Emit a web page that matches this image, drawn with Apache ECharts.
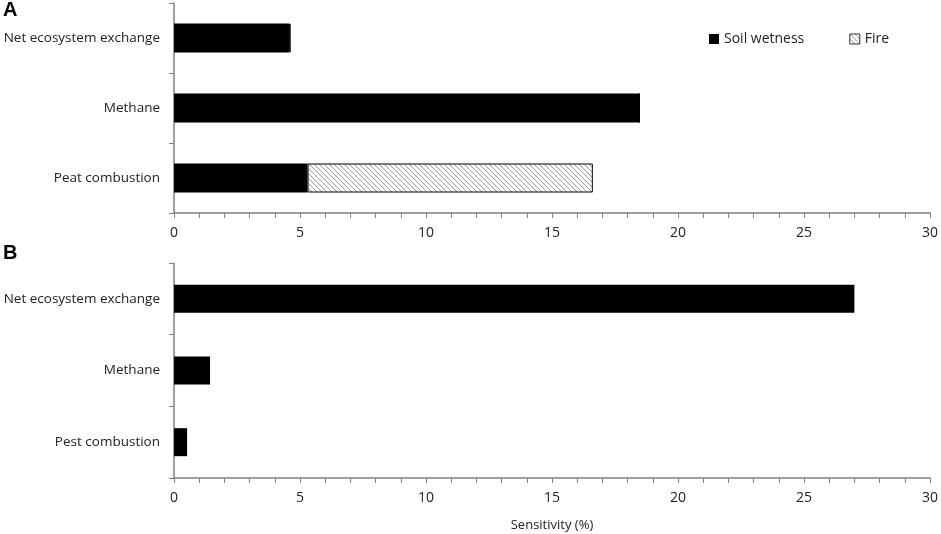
<!DOCTYPE html>
<html>
<head>
<meta charset="utf-8">
<script src="https://cdn.jsdelivr.net/npm/echarts@6/dist/echarts.min.js"></script>
<style>
html, body { margin: 0; padding: 0; background: #fff; }
#chart { width: 941px; height: 534px; }
</style>
</head>
<body>
<div id="chart"></div>
<script>
var categoriesA = ['Net ecosystem exchange', 'Methane', 'Peat combustion'];
var categoriesB = ['Net ecosystem exchange', 'Methane', 'Pest combustion'];
var soilA = [4.57, 18.47, 5.3];
var fireA = [0.06, 0, 11.32];
var soilB = [27.0, 1.43, 0.52];

var axisGray = '#808080';
var textColor = '#222';
var font = 'Open Sans';

// hatch pattern for the fire series
var hatch = document.createElement('canvas');
hatch.width = 5;
hatch.height = 5;
var hc = hatch.getContext('2d');
hc.fillStyle = '#fff';
hc.fillRect(0, 0, 5, 5);
hc.strokeStyle = '#9a9a9a';
hc.lineWidth = 1;
hc.beginPath();
hc.moveTo(0, 0); hc.lineTo(5, 5);
hc.moveTo(-3, 2); hc.lineTo(3, 8);
hc.moveTo(2, -3); hc.lineTo(8, 3);
hc.stroke();
var hatchFill = { image: hatch, repeat: 'repeat' };

function xAxisFor(idx, withName) {
    var ax = {
        gridIndex: idx,
        type: 'value',
        min: 0,
        max: 30,
        interval: 1,
        axisLine: { show: true, lineStyle: { color: axisGray, width: 1.5 } },
        axisTick: { show: true, length: 5, lineStyle: { color: axisGray } },
        splitLine: { show: false },
        axisLabel: {
            margin: 13,
            color: textColor,
            fontFamily: font,
            fontSize: 14,
            formatter: function (v) { return v % 5 === 0 ? String(v) : ''; }
        }
    };
    if (withName) {
        ax.name = 'Sensitivity (%)';
        ax.nameLocation = 'middle';
        ax.nameGap = 41;
        ax.nameTextStyle = { color: textColor, fontFamily: font, fontSize: 13 };
    }
    return ax;
}

function yAxisFor(idx, cats) {
    return {
        gridIndex: idx,
        type: 'category',
        inverse: true,
        data: cats,
        axisLine: { show: true, lineStyle: { color: axisGray, width: 1.5 } },
        axisTick: { show: true, length: 5, lineStyle: { color: axisGray } },
        axisLabel: { margin: 14, color: textColor, fontFamily: font, fontSize: 13.5 }
    };
}

var chart = echarts.init(document.getElementById('chart'), null, { renderer: 'canvas' });
var option = {
    animation: false,
    backgroundColor: '#fff',
    grid: [
        { left: 174, top: 3, width: 757, height: 210 },
        { left: 174, top: 263, width: 757, height: 215 }
    ],
    xAxis: [xAxisFor(0, false), xAxisFor(1, true)],
    yAxis: [yAxisFor(0, categoriesA), yAxisFor(1, categoriesB)],
    legend: {
        data: [
            { name: 'Soil wetness' },
            { name: 'Fire', itemStyle: { color: hatchFill, borderColor: '#333', borderWidth: 1 } }
        ],
        left: 704,
        top: 27,
        itemWidth: 10,
        itemHeight: 10,
        itemGap: 45,
        icon: 'rect',
        textStyle: { color: textColor, fontFamily: font, fontSize: 14 }
    },
    graphic: [
        { type: 'text', left: 3, top: 0, style: { text: 'A', font: 'bold 20px Liberation Sans', fill: '#000' } },
        { type: 'text', left: 3, top: 243, style: { text: 'B', font: 'bold 20px Liberation Sans', fill: '#000' } }
    ],
    series: [
        {
            name: 'Soil wetness',
            type: 'bar',
            xAxisIndex: 0,
            yAxisIndex: 0,
            stack: 'a',
            barWidth: 29,
            itemStyle: { color: '#000' },
            data: soilA
        },
        {
            name: 'Fire',
            type: 'bar',
            xAxisIndex: 0,
            yAxisIndex: 0,
            stack: 'a',
            barWidth: 29,
            itemStyle: {
                color: hatchFill,
                borderColor: '#000',
                borderWidth: 1
            },
            data: fireA
        },
        {
            name: 'Soil wetness B',
            type: 'bar',
            xAxisIndex: 1,
            yAxisIndex: 1,
            barWidth: 28,
            itemStyle: { color: '#000' },
            data: soilB
        }
    ]
};
chart.setOption(option);
</script>
</body>
</html>
